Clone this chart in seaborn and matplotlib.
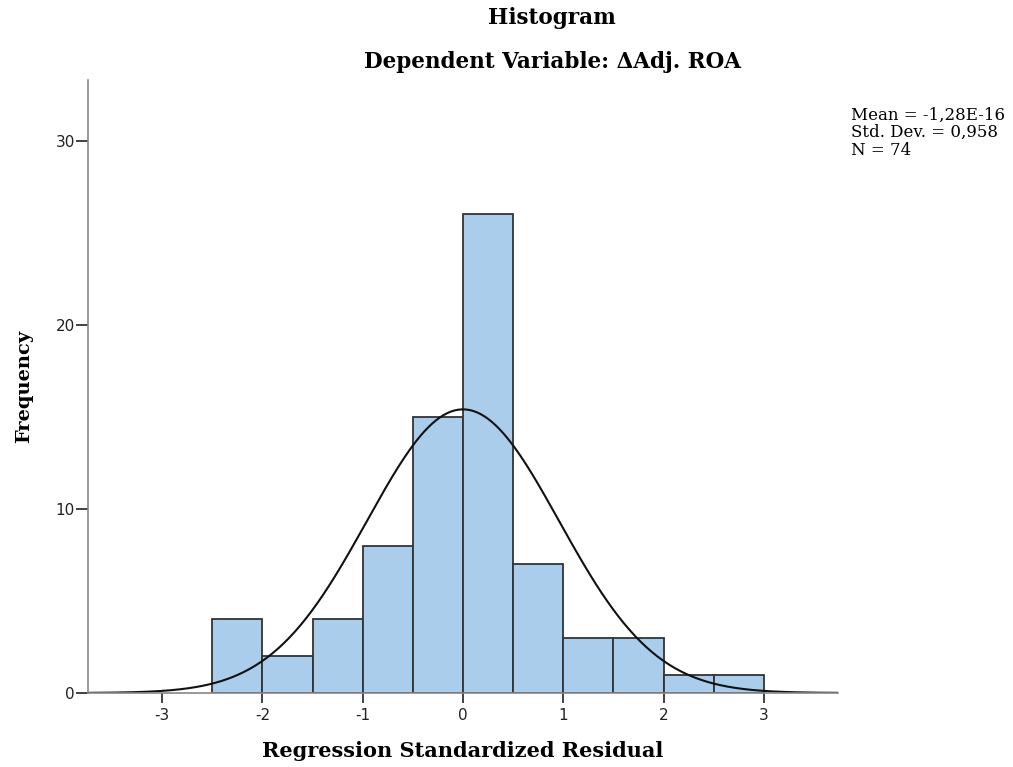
import numpy as np
import pandas as pd
import matplotlib
matplotlib.use("Agg")
import matplotlib.pyplot as plt
import seaborn as sns

# Data
bin_edges = [-2.5, -2.0, -1.5, -1.0, -0.5, 0.0, 0.5, 1.0, 1.5, 2.0, 2.5, 3.0]
counts = [4, 2, 4, 8, 15, 26, 7, 3, 3, 1, 1]
mean_val = 0.0
std_val = 0.958
n_obs = 74
x_ticks = [-3, -2, -1, 0, 1, 2, 3]
y_ticks = [0, 10, 20, 30]

sns.set_style("white")
plt.rcParams['font.family'] = ['DejaVu Sans']
plt.rcParams['text.color'] = 'black'
plt.rcParams['axes.labelcolor'] = 'black'
serif = ['DejaVu Serif', 'Liberation Serif']

fig = plt.figure(figsize=(10.13, 7.67), dpi=100)
ax = fig.add_axes([0.0869, 0.0965, 0.8272 - 0.0869, 0.8957 - 0.0965])

centers = [(a + b) / 2 for a, b in zip(bin_edges[:-1], bin_edges[1:])]
df = pd.DataFrame({"x": centers, "w": counts})
sns.histplot(data=df, x="x", weights="w", bins=bin_edges, ax=ax,
             color="#abcdec", alpha=1.0, edgecolor="#333333", linewidth=1.3)

bw = bin_edges[1] - bin_edges[0]
xs = np.linspace(-3.74, 3.74, 400)
ys = n_obs * bw / (std_val * np.sqrt(2 * np.pi)) * np.exp(-0.5 * ((xs - mean_val) / std_val) ** 2)
sns.lineplot(x=xs, y=ys, ax=ax, color="#111111", linewidth=1.5)

ax.set_xlim(-3.74, 3.74)
ax.set_ylim(0, 33.3)
ax.set_xticks(x_ticks)
ax.set_xticklabels([str(t) for t in x_ticks])
ax.set_yticks(y_ticks)
ax.set_yticklabels([str(t) for t in y_ticks])
ax.tick_params(axis='x', direction='out', length=7.5, width=1.3, color="#333333",
               labelsize=11, pad=3, bottom=True, labelcolor="#222222")
ax.tick_params(axis='y', direction='out', length=8.5, width=1.3, color="#333333",
               labelsize=11, pad=1, left=True, labelcolor="#222222")
for s in ['top', 'right']:
    ax.spines[s].set_visible(False)
for s in ['left', 'bottom']:
    ax.spines[s].set_color("#888888")
    ax.spines[s].set_linewidth(1.2)

ax.set_xlabel("Regression Standardized Residual", family=serif,
              fontweight='bold', fontsize=15, labelpad=13)
ax.set_ylabel("Frequency", family=serif,
              fontweight='bold', fontsize=14, labelpad=16)

fig.text(0.545, 0.976, "Histogram", ha='center', va='center',
         family=serif, fontweight='bold', fontsize=15.5)
fig.text(0.545, 0.919, "Dependent Variable: \u0394Adj. ROA", ha='center', va='center',
         family=serif, fontweight='bold', fontsize=15.5)

stats = f"Mean = -1,28E-16\nStd. Dev. = {str(std_val).replace('.', ',')}\nN = {n_obs}"
fig.text(0.840, 0.861, stats, ha='left', va='top',
         family=serif, fontsize=12, linespacing=1.05)

fig.savefig("out.png", dpi=100)
